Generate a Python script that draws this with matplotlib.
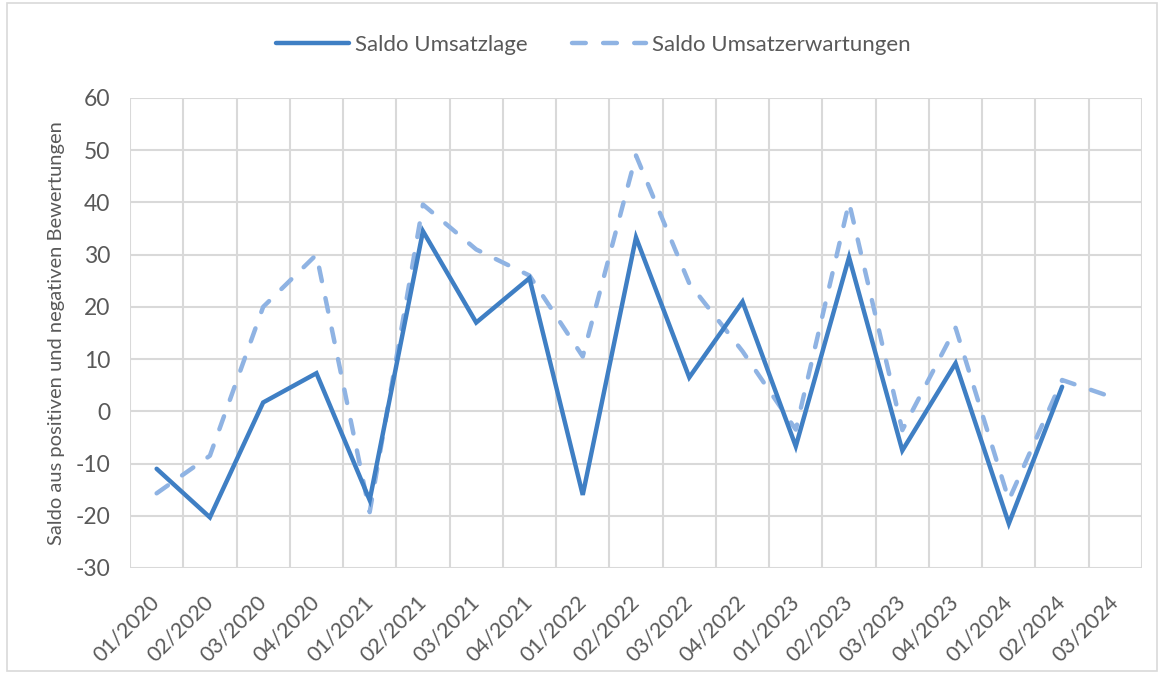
import matplotlib
matplotlib.use("Agg")
import matplotlib.pyplot as plt
import numpy as np
from matplotlib.patches import Rectangle

categories = ["01/2020", "02/2020", "03/2020", "04/2020",
              "01/2021", "02/2021", "03/2021", "04/2021",
              "01/2022", "02/2022", "03/2022", "04/2022",
              "01/2023", "02/2023", "03/2023", "04/2023",
              "01/2024", "02/2024", "03/2024"]
umsatzlage = [-11, -20.3, 1.7, 7.3, -17, 34.5, 17, 25.5, -16, 33.3, 6.5, 21,
              -6.7, 29.5, -7.5, 9.2, -21.5, 4.7, np.nan]
umsatzerwartungen = [-15.7, -8.5, 20, 30, -19.3, 39.6, 31, 26, 10.5, 49, 24.5, 11.5,
                     -3.5, 40, -3.6, 16, -17, 6, 2.5]

plt.rcParams['font.family'] = ['Lato', 'DejaVu Sans']
text_color = "#595959"
grid_color = "#D9D9D9"

fig = plt.figure(figsize=(11.65, 6.75), dpi=100)
ax = fig.add_axes([130/1165, 1-568/675, (1142-130)/1165, (568-98)/675])

x = np.arange(len(categories)) + 0.5
ax.plot(x, umsatzlage, color="#3F7FC4", lw=3.2, solid_capstyle='round',
        solid_joinstyle='miter', label="Saldo Umsatzlage", zorder=3)
ax.plot(x, umsatzerwartungen, color="#8FB3E3", lw=3.2, linestyle=(0, (3.1, 3.9)),
        dash_capstyle='round', dash_joinstyle='round', label="Saldo Umsatzerwartungen", zorder=2)

ax.set_xlim(0, len(categories))
ax.set_ylim(-30, 60)
ax.set_yticks(np.arange(-30, 61, 10))
ax.set_yticklabels([str(v) for v in range(-30, 61, 10)])
ax.set_xticks(np.arange(len(categories) + 1))
ax.set_xticklabels([])
ax.set_xticks(x, minor=True)
ax.set_xticklabels(categories, minor=True, rotation=45, ha='right', va='center',
                   rotation_mode='anchor')
ax.tick_params(axis='both', which='both', length=0, colors=text_color)
ax.tick_params(axis='y', pad=14, labelsize=16.5)
ax.tick_params(axis='x', which='minor', pad=22, labelsize=15.5)
ax.grid(True, which='major', color=grid_color, lw=1.5, zorder=0)
ax.set_axisbelow(True)
for s in ax.spines.values():
    s.set_visible(False)

ax.set_ylabel("Saldo aus positiven und negativen Bewertungen", color=text_color,
              fontsize=14.5, labelpad=8)

fig.legend(loc='center', bbox_to_anchor=(593/1165, 1-45/675), ncol=2, frameon=False,
           fontsize=16, handlelength=3.3, columnspacing=2.0, handletextpad=0.27,
           labelcolor=text_color)

fig.patches.append(Rectangle((7/1165, 4/675), 1150/1165, 668/675, transform=fig.transFigure,
                             fill=False, edgecolor=grid_color, lw=1.2))

fig.savefig("out.png", dpi=100)
